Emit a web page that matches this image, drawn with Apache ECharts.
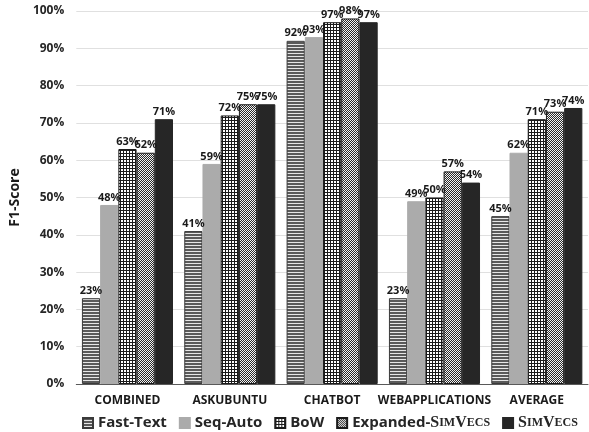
<!DOCTYPE html>
<html>
<head>
<meta charset="utf-8">
<script src="https://cdn.jsdelivr.net/npm/echarts@6/dist/echarts.min.js"></script>
<style>
html,body{margin:0;padding:0;background:#fff;}
#chart{width:589px;height:432px;}
</style>
</head>
<body>
<div id="chart"></div>
<script>
// Dataset categories and F1-scores (percent)
var categories = ['COMBINED', 'ASKUBUNTU', 'CHATBOT', 'WEBAPPLICATIONS', 'AVERAGE'];
var seriesNames = ['Fast-Text', 'Seq-Auto', 'BoW', 'Expanded-SimVecs', 'SimVecs'];
var fastText = [23, 41, 92, 23, 45];
var seqAuto = [48, 59, 93, 49, 62];
var bow = [63, 72, 97, 50, 71];
var expandedSimVecs = [62, 75, 98, 57, 73];
var simVecs = [71, 75, 97, 54, 74];
var yTicks = [0, 10, 20, 30, 40, 50, 60, 70, 80, 90, 100];

// Fill patterns for the bars
function makePattern(w, h, draw) {
  var c = document.createElement('canvas');
  c.width = w; c.height = h;
  var ctx = c.getContext('2d');
  draw(ctx);
  return { image: c, repeat: 'repeat' };
}
var stripePattern = makePattern(4, 3, function (ctx) {
  ctx.fillStyle = '#e6e6e6'; ctx.fillRect(0, 0, 4, 3);
  ctx.fillStyle = '#5a5a5a'; ctx.fillRect(0, 0, 4, 2);
});
var gridPattern = makePattern(3, 3, function (ctx) {
  ctx.fillStyle = '#ffffff'; ctx.fillRect(0, 0, 3, 3);
  ctx.fillStyle = '#1a1a1a'; ctx.fillRect(0, 0, 3, 1); ctx.fillRect(0, 0, 1, 3);
});
var hatchPattern = makePattern(4, 4, function (ctx) {
  ctx.fillStyle = '#f4f4f4'; ctx.fillRect(0, 0, 4, 4);
  ctx.fillStyle = '#2a2a2a';
  for (var i = 0; i < 4; i++) { ctx.fillRect(3 - i, i, 1, 1); ctx.fillRect((3 - i + 2) % 4, i, 1, 1); }
});

var fills = [stripePattern, '#ababab', gridPattern, hatchPattern, '#262626'];
var borders = ['#3a3a3a', '#ababab', '#1a1a1a', '#1a1a1a', '#262626'];
var values = [fastText, seqAuto, bow, expandedSimVecs, simVecs];

var chart = echarts.init(document.getElementById('chart'), null, { renderer: 'canvas' });

var series = seriesNames.map(function (name, i) {
  return {
    name: name,
    type: 'bar',
    data: values[i],
    barGap: '0%',
    barCategoryGap: '11%',
    itemStyle: { color: fills[i], borderColor: borders[i], borderWidth: 1 },
    label: {
      show: true,
      position: 'top',
      distance: 2,
      formatter: function (p) { return Math.round(p.value) + '%'; },
      fontFamily: 'Open Sans',
      fontWeight: 'bold',
      fontSize: 11,
      color: '#1a1a1a'
    }
  };
});

chart.setOption({
  animation: false,
  backgroundColor: '#ffffff',
  grid: { left: 70, right: 1, top: 11, bottom: 48 },
  legend: {
    top: 415,
    left: 82,
    right: 0,
    padding: 0,
    itemWidth: 10,
    itemHeight: 10,
    itemGap: 12,
    icon: 'rect',
    textStyle: {
      fontFamily: 'Open Sans',
      fontWeight: 'bold',
      fontSize: 15,
      color: '#262626',
      rich: {
        b: { fontFamily: 'Open Sans', fontWeight: 'bold', fontSize: 15, color: '#262626' },
        big: { fontFamily: 'Liberation Serif', fontSize: 16, color: '#262626' },
        sm: { fontFamily: 'Liberation Serif', fontSize: 12, color: '#262626' }
      }
    },
    formatter: function (name) {
      if (name === 'SimVecs') return '{big|S}{sm|IM}{big|V}{sm|ECS}';
      if (name === 'Expanded-SimVecs') return '{b|Expanded-}{big|S}{sm|IM}{big|V}{sm|ECS}';
      return name;
    }
  },
  xAxis: {
    type: 'category',
    data: categories,
    axisTick: { show: false },
    axisLine: { lineStyle: { color: '#595959', width: 1 } },
    axisLabel: {
      fontFamily: 'Open Sans',
      fontWeight: 'bold',
      fontSize: 12,
      color: '#1a1a1a',
      margin: 11,
      interval: 0
    }
  },
  yAxis: {
    type: 'value',
    min: 0,
    max: 100,
    interval: 10,
    name: 'F1-Score',
    nameLocation: 'middle',
    nameGap: 37,
    nameTextStyle: { fontFamily: 'Open Sans', fontWeight: 'bold', fontSize: 14, color: '#1a1a1a' },
    axisLine: { show: false },
    axisTick: { show: false },
    splitLine: { lineStyle: { color: '#e0e0e0', width: 1 } },
    axisLabel: {
      fontFamily: 'Open Sans',
      fontWeight: 'bold',
      fontSize: 12,
      color: '#262626',
      margin: 12,
      formatter: function (v) { return yTicks.indexOf(v) >= 0 ? v + '%' : ''; }
    }
  },
  series: series
});
</script>
</body>
</html>
